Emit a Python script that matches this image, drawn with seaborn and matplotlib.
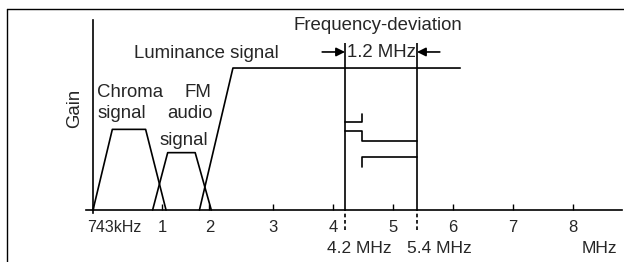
import numpy as np
import pandas as pd
import matplotlib
matplotlib.use("Agg")
import matplotlib.pyplot as plt
from matplotlib.lines import Line2D
from matplotlib.transforms import ScaledTranslation
import seaborn as sns

# ---- data (frequency in MHz, gain relative to luminance plateau) ----
CHROMA_MHZ = [0.743, 0.815, 0.939, 1.085]
CHROMA_GAIN = [0.0, 0.568, 0.568, 0.0]
FM_MHZ = [0.965, 1.12, 1.70, 2.03]
FM_GAIN = [0.0, 0.404, 0.404, 0.0]
LUMA_MHZ = [1.79, 2.37, 6.12]
LUMA_GAIN = [0.0, 1.0, 1.0]

# carrier steps inside the deviation band
STEP_A_MHZ = [4.2, 4.49, 4.49]
STEP_A_GAIN = [0.618, 0.618, 0.676]
STEP_B_MHZ = [4.2, 4.49, 4.49, 5.4]
STEP_B_GAIN = [0.556, 0.556, 0.486, 0.486]
STEP_C_MHZ = [4.49, 4.49, 5.4]
STEP_C_GAIN = [0.30, 0.371, 0.371]

DEV_EDGES = [4.2, 5.4]
DEV_TOP = 1.176

TICKS = [0.743, 1, 2, 3, 4, 5, 6, 7, 8]
TICK_LABELS = ["743kHz", "1", "2", "3", "4", "5", "6", "7", "8"]

# the drawing is not to scale below 3 MHz
MHZ_KNOTS = [0.743, 1, 2, 3]
DRAW_KNOTS = [0.0, 1.15, 1.94, 3.0]


def fwd(x):
    x = np.asarray(x, dtype=float)
    return np.where(x < 0.743, x - 0.743,
                    np.where(x > 3, x, np.interp(x, MHZ_KNOTS, DRAW_KNOTS)))


def inv(u):
    u = np.asarray(u, dtype=float)
    return np.where(u < 0, u + 0.743,
                    np.where(u > 3, u, np.interp(u, DRAW_KNOTS, MHZ_KNOTS)))


parts = [("chroma", CHROMA_MHZ, CHROMA_GAIN), ("fm", FM_MHZ, FM_GAIN),
         ("luma", LUMA_MHZ, LUMA_GAIN), ("a", STEP_A_MHZ, STEP_A_GAIN),
         ("b", STEP_B_MHZ, STEP_B_GAIN), ("c", STEP_C_MHZ, STEP_C_GAIN)]
df = pd.concat([pd.DataFrame({"shape": n, "mhz": x, "gain": y}) for n, x, y in parts],
               ignore_index=True)

sns.set_style("white")
plt.rcParams["font.family"] = ["Liberation Sans", "DejaVu Sans"]

fig = plt.figure(figsize=(6.24, 2.62), dpi=100)
ax = fig.add_axes([0, 0, 1, 1])
ax.set_xscale("function", functions=(fwd, inv))

LW = 1.2
sns.lineplot(data=df, x="mhz", y="gain", units="shape", estimator=None, sort=False,
             color="black", lw=LW, ax=ax)

ax.vlines(DEV_EDGES, 0, DEV_TOP, color="black", lw=LW)
ax.vlines(DEV_EDGES, -0.14, 0, color="black", lw=LW, linestyles=(0, (2.2, 1.6)))

ax.set_xlim(-0.807, 8.85)
ax.set_ylim(-0.366, 1.479)

# axes lines
for s in ["top", "right"]:
    ax.spines[s].set_visible(False)
ax.spines["bottom"].set_position(("data", 0))
ax.spines["left"].set_position(("data", 0.743))
ax.spines["bottom"].set_bounds(0.626, 8.82)
ax.spines["left"].set_bounds(-0.02, 1.338)
for s in ["bottom", "left"]:
    ax.spines[s].set_color("black")
    ax.spines[s].set_linewidth(LW)

ax.set_yticks([])
ax.set_xticks(TICKS)
ax.set_xticklabels(TICK_LABELS)
ax.tick_params(axis="x", direction="in", length=4, width=1, color="black",
               labelsize=12, pad=7, bottom=True)
ax.set_xlabel("")
ax.set_ylabel("")
# 743kHz label starts just left of the origin
lab0 = ax.get_xticklabels()[0]
lab0.set_horizontalalignment("left")
lab0.set_fontsize(11.5)
lab0.set_transform(lab0.get_transform() + ScaledTranslation(-6 / 100, 0, fig.dpi_scale_trans))

# arrows for the deviation width
ap = dict(arrowstyle="-|>", color="black", lw=LW, mutation_scale=13, shrinkA=0, shrinkB=0)
ax.annotate("", xy=(4.2, 1.113), xytext=(3.82, 1.113), arrowprops=ap)
ax.annotate("", xy=(5.4, 1.113), xytext=(5.78, 1.113), arrowprops=ap)

FS = 13.4
ax.text(4.75, 1.268, "Frequency-deviation", ha="center", va="baseline", fontsize=FS)
ax.text(4.8, 1.075, "1.2 MHz", ha="center", va="baseline", fontsize=FS)
ax.text(1.94, 1.068, "Luminance signal", ha="center", va="baseline", fontsize=FS)
ax.text(0.758, 0.799, "Chroma", ha="left", va="baseline", fontsize=FS)
ax.text(0.758, 0.646, "signal", ha="left", va="baseline", fontsize=FS)
ax.text(1.76, 0.799, "FM", ha="center", va="baseline", fontsize=FS)
ax.text(1.59, 0.646, "audio", ha="center", va="baseline", fontsize=FS)
ax.text(1.45, 0.458, "signal", ha="center", va="baseline", fontsize=FS)
ax.text(0.443, 0.718, "Gain", rotation=90, ha="center", va="center", fontsize=FS)
ax.text(3.9, -0.303, "4.2 MHz", ha="left", va="baseline", fontsize=12.5)
ax.text(5.23, -0.303, "5.4 MHz", ha="left", va="baseline", fontsize=12.5)
ax.text(8.15, -0.303, "MHz", ha="left", va="baseline", fontsize=12.5)

# outer frame of the figure (top and left edges)
fig.add_artist(Line2D([7 / 624, 1], [1 - 9 / 262] * 2, transform=fig.transFigure,
                      color="black", lw=1))
fig.add_artist(Line2D([7 / 624] * 2, [0, 1 - 9 / 262], transform=fig.transFigure,
                      color="black", lw=1))

fig.savefig("out.png", dpi=100)
